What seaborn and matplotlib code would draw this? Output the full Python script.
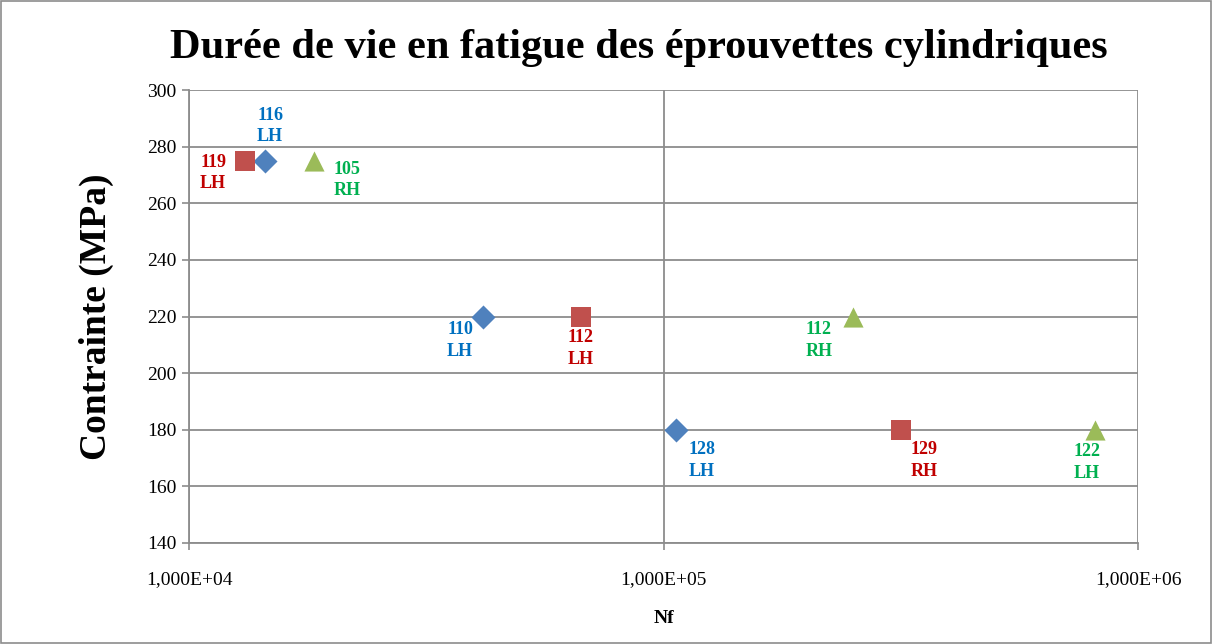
import matplotlib
matplotlib.use("Agg")
import matplotlib.pyplot as plt
import matplotlib.ticker as mticker
import seaborn as sns
import pandas as pd

# Fatigue life data (cycles to failure) at three stress levels
stress = [275, 220, 180]
nf_serie1 = [14460, 41650, 106200]    # blue diamonds
nf_serie2 = [13130, 66990, 316600]    # red squares
nf_serie3 = [18330, 250600, 811000]   # green triangles

labels_serie1 = ["116\nLH", "110\nLH", "128\nLH"]
labels_serie2 = ["119\nLH", "112\nLH", "129\nRH"]
labels_serie3 = ["105\nRH", "112\nRH", "122\nLH"]

x_ticks = [1e4, 1e5, 1e6]
x_tick_labels = ["1,000E+04", "1,000E+05", "1,000E+06"]
y_ticks = [140, 160, 180, 200, 220, 240, 260, 280, 300]

sns.set_theme(style="white")
plt.rcParams["font.family"] = ["Liberation Serif", "DejaVu Serif"]
plt.rcParams["text.color"] = "black"
plt.rcParams["axes.labelcolor"] = "black"

fig = plt.figure(figsize=(12.12, 6.44), dpi=100)
ax = fig.add_axes([0.156, 0.157, 0.783, 0.703])

series = [
    (nf_serie1, labels_serie1, "D", "#4F81BD", "#0070C0", 150,
     [(5, 35), (-23, -24), (26, -31)]),
    (nf_serie2, labels_serie2, "s", "#C0504D", "#C00000", 210,
     [(-32, -12), (0, -32), (23, -31)]),
    (nf_serie3, labels_serie3, "^", "#9BBB59", "#00B050", 210,
     [(33, -19), (-34, -24), (-8, -33)]),
]

for nf, labels, marker, mcolor, tcolor, size, offsets in series:
    df = pd.DataFrame({"Nf": nf, "Contrainte": stress})
    sns.scatterplot(data=df, x="Nf", y="Contrainte", marker=marker,
                    color=mcolor, s=size, linewidth=0, ax=ax, zorder=3)
    for xv, yv, lab, off in zip(nf, stress, labels, offsets):
        ax.annotate(lab, (xv, yv), xytext=off, textcoords="offset pixels",
                    ha="center", va="center", color=tcolor, fontsize=13,
                    fontweight="bold", linespacing=1.35)

ax.set_xscale("log")
ax.set_xlim(1e4, 1e6)
ax.set_ylim(140, 300)
ax.xaxis.set_major_locator(mticker.FixedLocator(x_ticks))
ax.xaxis.set_minor_locator(mticker.NullLocator())
ax.set_xticks(x_ticks)
ax.set_xticklabels(x_tick_labels)
ax.set_yticks(y_ticks)

ax.grid(True, color="#8c8c8c", linewidth=1.3)
ax.set_axisbelow(True)
for side, sp in ax.spines.items():
    sp.set_color("#8c8c8c")
    sp.set_linewidth(1.3)
ax.spines["top"].set_visible(False)
ax.spines["right"].set_visible(False)

ax.tick_params(axis="both", which="major", direction="out", length=5,
               width=1.2, color="#8c8c8c", labelsize=14, labelcolor="black",
               bottom=True, left=True)
ax.tick_params(axis="x", pad=15)
ax.tick_params(axis="y", pad=4)

ax.set_xlabel("Nf", fontsize=14, fontweight="bold", labelpad=16)
ax.set_ylabel("Contrainte (MPa)", fontsize=27, fontweight="bold", labelpad=24)
fig.suptitle("Durée de vie en fatigue des éprouvettes cylindriques",
             fontsize=30.5, fontweight="bold", x=0.527, y=0.955,
             color="black")

# thin frame around the whole chart area
fig.patches.append(plt.Rectangle((0.001, 0.001), 0.998, 0.998,
                                 transform=fig.transFigure, fill=False,
                                 edgecolor="#8c8c8c", linewidth=1.2))

fig.savefig("out.png", dpi=100)
